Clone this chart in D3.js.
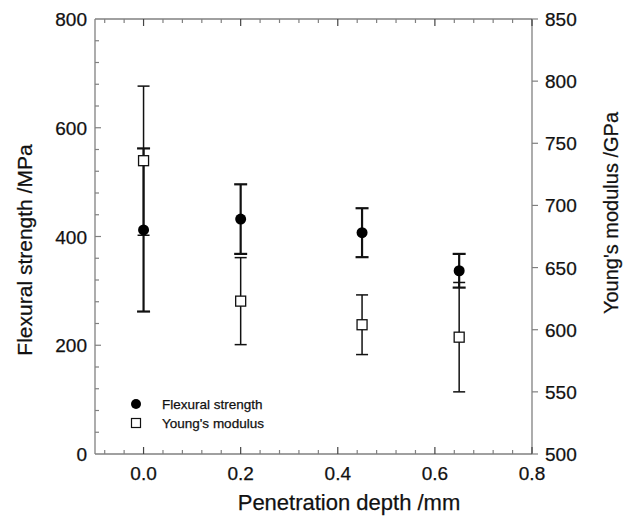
<!DOCTYPE html>
<html><head><meta charset="utf-8">
<script src="https://cdn.jsdelivr.net/npm/d3@7"></script>
<style>body{margin:0;background:#fff}svg{display:block}text{font-family:"Liberation Sans",Arial,sans-serif;fill:#111;stroke:#111;stroke-width:0.25px}</style>
</head><body>
<svg id="c" width="624" height="517"></svg>
<script>
const depth = [0.0, 0.2, 0.45, 0.65];
const flexural = [412, 432, 407, 337];
const flexuralErr = [150, 64, 45, 31];
const youngs = [736, 623, 604, 594];
const youngsErr = [60, 35, 24, 44];
const xTicks = [0.0, 0.2, 0.4, 0.6, 0.8];
const yLeftTicks = [0, 200, 400, 600, 800];
const yRightTicks = [500, 550, 600, 650, 700, 750, 800, 850];

const svg = d3.select("#c");
const L = 95, R = 532, T = 19, B = 454;
const x = d3.scaleLinear().domain([-0.1, 0.8]).range([L, R]);
const yL = d3.scaleLinear().domain([0, 800]).range([B, T]);
const yR = d3.scaleLinear().domain([500, 850]).range([B, T]);
const axisCol = "#808080";

const g = svg.append("g");
g.append("line").attr("x1", L).attr("x2", L).attr("y1", T).attr("y2", B).attr("stroke", axisCol).attr("stroke-width", 1.3);
g.append("line").attr("x1", R).attr("x2", R).attr("y1", T).attr("y2", B).attr("stroke", axisCol).attr("stroke-width", 1.3);
g.append("line").attr("x1", L).attr("x2", R).attr("y1", B).attr("y2", B).attr("stroke", axisCol).attr("stroke-width", 1.3);
g.append("line").attr("x1", L).attr("x2", R).attr("y1", T).attr("y2", T).attr("stroke", axisCol).attr("stroke-width", 1.3);

const xMinor = d3.range(-0.08, 0.8001, 0.04);
xMinor.forEach(v => {
  const isMajor = xTicks.some(t => Math.abs(t - v) < 1e-6);
  const len = isMajor ? 7 : 4;
  const px = x(v);
  g.append("line").attr("x1", px).attr("x2", px).attr("y1", B).attr("y2", B - len).attr("stroke", isMajor ? "#444" : axisCol).attr("stroke-width", 1.2);
  g.append("line").attr("x1", px).attr("x2", px).attr("y1", T).attr("y2", T + len).attr("stroke", isMajor ? "#444" : axisCol).attr("stroke-width", 1.2);
});
d3.range(40, 800, 40).forEach(v => {
  const isMajor = yLeftTicks.includes(v);
  const len = isMajor ? 6 : 4;
  g.append("line").attr("x1", L).attr("x2", L + len).attr("y1", yL(v)).attr("y2", yL(v)).attr("stroke", axisCol).attr("stroke-width", 1.2);
});

g.selectAll(".xl").data(xTicks).enter().append("text")
  .attr("x", d => x(d)).attr("y", 480).attr("text-anchor", "middle")
  .attr("font-size", 19).text(d => d.toFixed(1));
g.selectAll(".yl").data(yLeftTicks).enter().append("text")
  .attr("x", 87).attr("y", d => yL(d) + 7).attr("text-anchor", "end")
  .attr("font-size", 19).text(d => d);
yRightTicks.forEach(v => {
  g.append("line").attr("x1", R).attr("x2", R + 6).attr("y1", yR(v)).attr("y2", yR(v)).attr("stroke", axisCol).attr("stroke-width", 1.2);
});
g.selectAll(".yr").data(yRightTicks).enter().append("text")
  .attr("x", 545).attr("y", d => yR(d) + 7).attr("text-anchor", "start")
  .attr("font-size", 19).text(d => d);

svg.append("text").attr("x", 349).attr("y", 510).attr("text-anchor", "middle").attr("font-size", 22).text("Penetration depth /mm");
svg.append("text").attr("transform", "translate(32,250) rotate(-90)").attr("text-anchor", "middle").attr("font-size", 21).text("Flexural strength /MPa");
svg.append("text").attr("transform", "translate(618,213) rotate(-90)").attr("text-anchor", "middle").attr("font-size", 20).text("Young's modulus /GPa");

function errBars(vals, errs, ys, sw, cap) {
  const eg = svg.append("g").attr("stroke", "#111").attr("stroke-width", sw);
  vals.forEach((v, i) => {
    const px = x(depth[i]);
    const y1 = ys(v - errs[i]), y2 = ys(v + errs[i]);
    eg.append("line").attr("x1", px).attr("x2", px).attr("y1", y1).attr("y2", y2);
    eg.append("line").attr("x1", px - cap).attr("x2", px + cap).attr("y1", y1).attr("y2", y1);
    eg.append("line").attr("x1", px - cap).attr("x2", px + cap).attr("y1", y2).attr("y2", y2);
  });
}
errBars(youngs, youngsErr, yR, 1.5, 6);
errBars(flexural, flexuralErr, yL, 2.2, 6.5);

svg.selectAll(".sq").data(youngs).enter().append("rect")
  .attr("x", (d, i) => x(depth[i]) - 5).attr("y", d => yR(d) - 5)
  .attr("width", 10).attr("height", 10).attr("fill", "#fff").attr("stroke", "#111").attr("stroke-width", 1.3);
svg.selectAll(".ci").data(flexural).enter().append("circle")
  .attr("cx", (d, i) => x(depth[i])).attr("cy", d => yL(d)).attr("r", 5.5).attr("fill", "#000");

const lg = svg.append("g");
lg.append("circle").attr("cx", 136).attr("cy", 404).attr("r", 5).attr("fill", "#000");
lg.append("rect").attr("x", 131.5).attr("y", 418.5).attr("width", 9).attr("height", 9).attr("fill", "#fff").attr("stroke", "#111").attr("stroke-width", 1.2);
lg.append("text").attr("x", 162).attr("y", 409).attr("font-size", 13.5).text("Flexural strength");
lg.append("text").attr("x", 162).attr("y", 428).attr("font-size", 13.5).text("Young's modulus");
</script>
</body></html>
